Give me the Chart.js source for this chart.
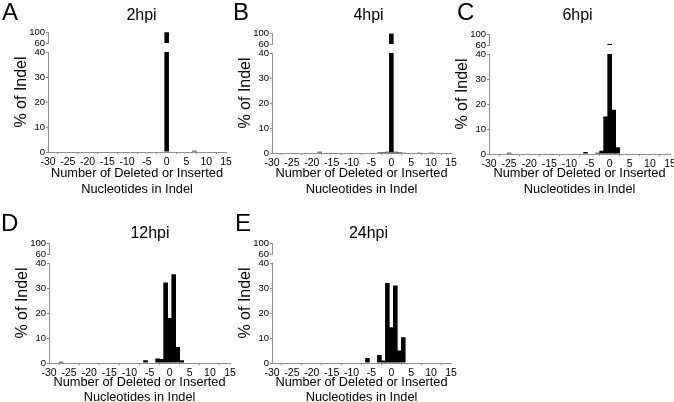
<!DOCTYPE html>
<html>
<head>
<meta charset="utf-8">
<script src="https://cdn.jsdelivr.net/npm/chart.js@4.4.0/dist/chart.umd.min.js"></script>
<style>
  html, body { margin: 0; padding: 0; background: #fff; overflow: hidden; }
  #fig { position: relative; width: 674px; height: 402px; overflow: hidden; background: #fff; }
  #fig canvas { position: absolute; }
  .tag { position: absolute; font: 24px/24px "Liberation Sans", Arial, sans-serif; color: #000; }
</style>
</head>
<body>
<div id="fig">
  <canvas id="p2"></canvas>
  <canvas id="p4"></canvas>
  <canvas id="p6"></canvas>
  <canvas id="p12"></canvas>
  <canvas id="p24"></canvas>
  <div class="tag" style="left:2px;top:0px">A</div>
  <div class="tag" style="left:233px;top:0px">B</div>
  <div class="tag" style="left:457px;top:0px">C</div>
  <div class="tag" style="left:1px;top:211px">D</div>
  <div class="tag" style="left:235px;top:211px">E</div>
</div>
<script>
// bins: number of deleted (<0) or inserted (>0) nucleotides
const nucleotides = [
  -30, -29, -28, -27, -26, -25, -24, -23, -22, -21,
  -20, -19, -18, -17, -16, -15, -14, -13, -12, -11,
  -10, -9, -8, -7, -6, -5, -4, -3, -2, -1,
  0, 1, 2, 3, 4, 5, 6, 7, 8, 9,
  10, 11, 12, 13, 14, 15
];

// % of indel per bin, one row of 10 bins per line
const pct2hpi = [
  0, 0, 0, 0, 0, 0, 0, 0, 0, 0,
  0, 0, 0, 0, 0, 0, 0, 0, 0, 0,
  0, 0, 0, 0, 0, 0, 0, 0, 0, 0,
  99, 0, 0, 0, 0, 0, 0, 0.5, 0, 0,
  0, 0, 0, 0, 0, 0
];
const pct4hpi = [
  0, 0, 0, 0, 0, 0, 0, 0, 0, 0,
  0, 0, 0.5, 0, 0, 0, 0, 0, 0, 0,
  0, 0, 0, 0, 0, 0, 0, 0.4, 0.4, 0.5,
  98, 0.5, 0.4, 0.3, 0, 0, 0, 0.3, 0, 0,
  0.3, 0, 0, 0, 0, 0
];
const pct6hpi = [
  0, 0, 0, 0, 0, 0.5, 0, 0, 0, 0,
  0, 0, 0, 0, 0, 0, 0, 0, 0, 0,
  0, 0, 0, 0, 0.8, 0, 0, 0.5, 1.3, 15,
  64, 17.7, 2.7, 0, 0, 0, 0, 0, 0, 0,
  0, 0, 0, 0, 0, 0
];
const pct12hpi = [
  0, 0, 0, 0.5, 0, 0, 0, 0, 0, 0,
  0, 0, 0, 0, 0, 0, 0, 0, 0, 0,
  0, 0, 0, 0, 1.1, 0, 0, 1.8, 1.6, 32.2,
  18, 35.5, 6.4, 1.1, 0, 0, 0, 0, 0, 0,
  0, 0, 0, 0, 0, 0
];
const pct24hpi = [
  0, 0, 0, 0, 0, 0, 0, 0, 0, 0,
  0, 0, 0, 0, 0, 0, 0, 0, 0, 0,
  0, 0, 0, 0, 2, 0, 0, 3.2, 1, 32,
  14.3, 31, 5, 10.3, 0, 0, 0, 0, 0, 0,
  0, 0, 0, 0, 0, 0
];

const xTicks = [-30, -25, -20, -15, -10, -5, 0, 5, 10, 15];
const yTicksLow = [0, 10, 20, 30, 40];
const yTicksHigh = [60, 100];

const FONT = "'Liberation Sans', Arial, sans-serif";
const AXIS = '#8f8f8f';
const AXIS_W = 18;      // width of the stacked tick axes
const XT_SIZE = 12.8;   // x title font size
const XT_LH = 1.2;      // and its line height

Chart.defaults.font.family = FONT;
Chart.defaults.color = '#000';

// placement of every panel on the page
const panels = [
  { id: 'p2', title: '2hpi', series: pct2hpi, left: 0, top: 0, w: 283, h: 200, plotL: 48, plotR: 226, plotT: 32, plotB: 152, titleY: 16, xTitleY: 189.3 },
  { id: 'p4', title: '4hpi', series: pct4hpi, left: 236, top: 0, w: 265, h: 200, plotL: 272, plotR: 451, plotT: 33, plotB: 153, titleY: 16, xTitleY: 189.3 },
  { id: 'p6', title: '6hpi', series: pct6hpi, left: 450, top: 0, w: 255, h: 200, plotL: 489, plotR: 670, plotT: 34, plotB: 154, titleY: 15.5, xTitleY: 189 },
  { id: 'p12', title: '12hpi', series: pct12hpi, left: 0, top: 200, w: 300, h: 210, plotL: 49, plotR: 230, plotT: 243, plotB: 363, titleY: 233.4, xTitleY: 397.5 },
  { id: 'p24', title: '24hpi', series: pct24hpi, left: 236, top: 200, w: 265, h: 210, plotL: 272, plotR: 451, plotT: 243, plotB: 363, titleY: 233.4, xTitleY: 397.5 }
];

function tickAxis(min, max, ticks, weight) {
  return {
    type: 'linear',
    position: 'left',
    stack: 'pct',
    stackWeight: weight,
    min: min,
    max: max,
    afterBuildTicks: s => { s.ticks = ticks.map(v => ({ value: v })); },
    afterFit: s => { s.width = AXIS_W; },
    grid: { display: true, drawOnChartArea: false, drawTicks: true, tickLength: 2, color: AXIS },
    border: { display: true, color: AXIS, width: 1 },
    ticks: { autoSkip: false, padding: 1, font: { size: 9.5 }, color: '#000' }
  };
}

function makePanel(p) {
  const canvas = document.getElementById(p.id);
  canvas.width = p.w;
  canvas.height = p.h;
  canvas.style.left = p.left + 'px';
  canvas.style.top = p.top + 'px';

  const titleTop = p.titleY - p.top - 9.6;
  const titleBottom = Math.max(0, p.plotT - p.top - 19.2 - titleTop);
  const xTitleBottom = p.top + p.h - p.xTitleY - XT_SIZE * XT_LH / 2;

  const barStyle = {
    backgroundColor: '#000',
    borderWidth: 0,
    categoryPercentage: 1,
    barPercentage: 1.15,
    grouped: false
  };

  new Chart(canvas, {
    type: 'bar',
    data: {
      labels: nucleotides,
      datasets: [
        Object.assign({ data: p.series.map(v => Math.min(v, 40)), yAxisID: 'y' }, barStyle),
        Object.assign({ data: p.series.map(v => (v > 60 ? v : null)), yAxisID: 'yTop' }, barStyle)
      ]
    },
    options: {
      responsive: false,
      animation: false,
      layout: { padding: 0 },
      plugins: {
        legend: { display: false },
        tooltip: { enabled: false },
        title: {
          display: true,
          text: p.title,
          color: '#000',
          font: { size: 16, weight: 'normal' },
          padding: { top: titleTop, bottom: titleBottom }
        }
      },
      scales: {
        x: {
          type: 'linear',
          min: -30,
          max: 15,
          offset: false,
          afterBuildTicks: s => { s.ticks = xTicks.map(v => ({ value: v })); },
          afterFit: s => { s.height = p.top + p.h - p.plotB; },
          grid: { display: true, drawOnChartArea: false, drawTicks: true, tickLength: 2, color: AXIS },
          border: { display: true, color: AXIS, width: 1 },
          ticks: { autoSkip: false, maxRotation: 0, padding: 1.5, font: { size: 10.5 }, color: '#000' },
          title: {
            display: true,
            text: ['Number of Deleted or Inserted', 'Nucleotides in Indel'],
            color: '#000',
            font: { size: XT_SIZE, lineHeight: XT_LH },
            padding: { top: 0, bottom: xTitleBottom }
          }
        },
        y: tickAxis(0, 40, yTicksLow, 100),
        yGap: {
          type: 'linear',
          position: 'left',
          stack: 'pct',
          stackWeight: 9,
          display: false,
          afterFit: s => { s.width = AXIS_W; }
        },
        yTop: tickAxis(60, 100, yTicksHigh, 11),
        yTitle: {
          type: 'linear',
          position: 'left',
          weight: 1,
          grid: { display: false },
          border: { display: false },
          ticks: { display: false },
          afterFit: s => { s.width = p.plotL - p.left - AXIS_W; },
          title: {
            display: true,
            text: '% of Indel',
            color: '#000',
            font: { size: 16 },
            padding: { top: p.plotL - 26 - p.left - 9.6, bottom: 0 }
          }
        },
        yR: {
          type: 'linear',
          position: 'right',
          display: false,
          afterFit: s => { s.width = p.left + p.w - p.plotR; }
        }
      }
    }
  });
}

panels.forEach(makePanel);
</script>
</body>
</html>
